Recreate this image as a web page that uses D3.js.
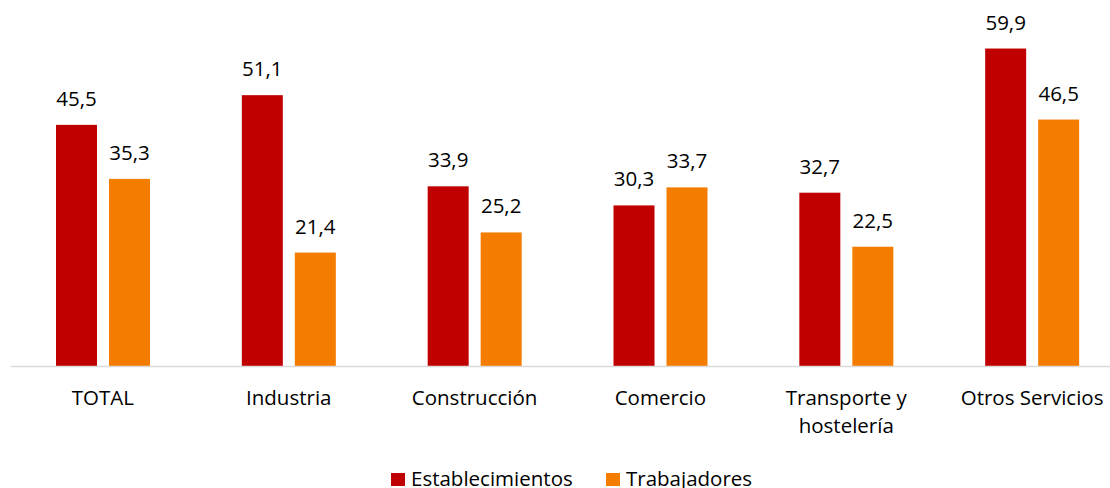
<!DOCTYPE html>
<html>
<head>
<meta charset="utf-8">
<script src="https://cdn.jsdelivr.net/npm/d3@7"></script>
<style>
  body { margin: 0; background: #fff; }
  text { font-family: "Open Sans", sans-serif; fill: #000; }
</style>
</head>
<body>
<script>
// datos
var categories = ["TOTAL", "Industria", "Construcción", "Comercio", "Transporte y\nhostelería", "Otros Servicios"];
var seriesNames = ["Establecimientos", "Trabajadores"];
var establecimientos = [45.5, 51.1, 33.9, 30.3, 32.7, 59.9];
var trabajadores = [35.3, 21.4, 25.2, 33.7, 22.5, 46.5];
var colors = ["#C00000", "#F47D00"];

var width = 1110, height = 488;
var baseY = 366;
var fs = "20.5px";

var svg = d3.select("body").append("svg")
    .attr("width", width)
    .attr("height", height);

var x0 = d3.scaleBand().domain(d3.range(categories.length)).range([10, 1125]);
var x1 = d3.scaleBand().domain([0, 1]).range([46, 46 + 94]).paddingInner(12 / 53);
var y = d3.scaleLinear().domain([0, 60]).range([baseY, baseY - 318]);

var fmt = function (v) { return d3.format(".1f")(v).replace(".", ","); };

var rows = categories.map(function (c, i) {
    return { cat: c, vals: [establecimientos[i], trabajadores[i]] };
});

var groups = svg.selectAll("g.cat").data(rows).enter().append("g")
    .attr("class", "cat")
    .attr("transform", function (d, i) { return "translate(" + x0(i) + ",0)"; });

groups.selectAll("rect").data(function (d) { return d.vals; }).enter().append("rect")
    .attr("x", function (d, j) { return x1(j); })
    .attr("width", x1.bandwidth())
    .attr("y", function (d) { return y(d); })
    .attr("height", function (d) { return baseY - y(d); })
    .attr("fill", function (d, j) { return colors[j]; });

groups.selectAll("text.val").data(function (d) { return d.vals; }).enter().append("text")
    .attr("class", "val")
    .attr("x", function (d, j) { return x1(j) + x1.bandwidth() / 2; })
    .attr("y", function (d) { return y(d) - 19; })
    .attr("text-anchor", "middle")
    .style("font-size", fs)
    .text(fmt);

// eje x
svg.append("line")
    .attr("x1", 11).attr("x2", width)
    .attr("y1", baseY + 0.5).attr("y2", baseY + 0.5)
    .attr("stroke", "#d9d9d9").attr("stroke-width", 1.5);

groups.append("text")
    .attr("class", "cat-label")
    .attr("x", x0.bandwidth() / 2)
    .attr("y", baseY + 39)
    .attr("text-anchor", "middle")
    .style("font-size", fs)
    .each(function (d) {
        var lines = d.cat.split("\n");
        var t = d3.select(this);
        lines.forEach(function (l, k) {
            t.append("tspan").attr("x", x0.bandwidth() / 2).attr("dy", k ? 28 : 0).text(l);
        });
    });

// leyenda
var legendX = [391, 606];
var legend = svg.selectAll("g.legend").data(seriesNames).enter().append("g")
    .attr("class", "legend")
    .attr("transform", function (d, i) { return "translate(" + legendX[i] + ",473)"; });
legend.append("rect").attr("width", 14).attr("height", 13)
    .attr("fill", function (d, i) { return colors[i]; });
legend.append("text").attr("x", 20).attr("y", 13)
    .style("font-size", fs)
    .text(function (d) { return d; });
</script>
</body>
</html>
